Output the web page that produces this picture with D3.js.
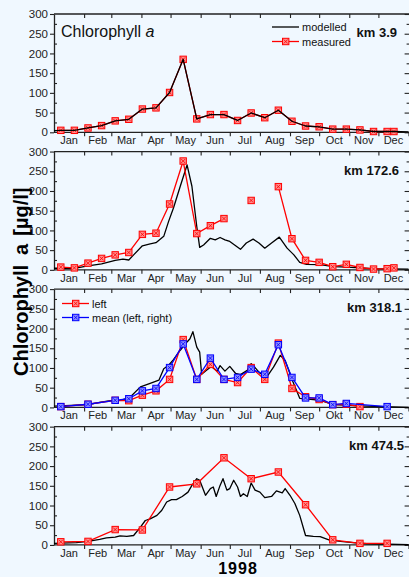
<!DOCTYPE html>
<html><head><meta charset="utf-8">
<script src="https://cdn.jsdelivr.net/npm/d3@7"></script>
<style>
html,body{margin:0;padding:0;background:#f0f8ff;}
svg{display:block;font-family:Arial,"Liberation Sans",sans-serif;}
</style></head><body>
<svg id="c" width="409" height="577"></svg>
<script>
// ---------- data ----------
const monthLabels = ["Jan","Feb","Mar","Apr","May","Jun","Jul","Aug","Sep","Oct","Nov","Dec"];
const monthLabels3 = ["Jan","Feb","Mar","Apr","May","Jun","Jul","Aug","Sep","Okt","Nov","Dec"];
const yTicks = [0,50,100,150,200,250,300];
const yMinor = [25,75,125,175,225,275];
const panelTitles = ["km 3.9","km 172.6","km 318.1","km 474.5"];

// biweekly sampling dates (km 3.9, km 172.6)
const datesA = ["1998-01-08","1998-01-22","1998-02-05","1998-02-19","1998-03-05","1998-03-19","1998-04-02","1998-04-16","1998-04-30","1998-05-14","1998-05-28","1998-06-11","1998-06-25","1998-07-09","1998-07-23","1998-08-06","1998-08-20","1998-09-03","1998-09-17","1998-10-01","1998-10-15","1998-10-29","1998-11-12","1998-11-26","1998-12-10","1998-12-17"];
const measured1 = [5,5,11,17,29,33,59,62,101,185,34,45,45,30,49,37,56,28,16,14,8,8,6,2,2,2];
const modelled1Days = [0,7,21,35,49,63,77,91,105,119,133,147,161,175,189,203,217,231,245,259,273,287,301,315,329,343,350,365];
const modelled1 = [4,5,5,11,17,29,33,59,62,101,185,34,45,45,30,49,37,56,28,16,14,8,8,6,2,2,2,1];

const measured2 = [7,5,17,29,38,44,90,93,167,276,92,112,130,null,176,null,211,79,24,19,8,14,6,2,3,5];
const modelled2Days = [0,21,35,49,63,71,77,82,91,99,105,113,118,123,130,137,142,147,150,154,161,166,171,176,181,192,198,205,211,217,224,232,240,247,253,260,274,288,302,315,329,365];
const modelled2 = [4,4,10,15,24,27,25,38,61,66,69,85,123,157,212,266,212,110,57,63,80,76,82,76,72,52,68,78,68,55,68,83,55,38,19,14,13,8,7,5,3,2];

const dates3 = ["1998-01-08","1998-02-05","1998-03-05","1998-03-19","1998-04-02","1998-04-16","1998-04-30","1998-05-14","1998-05-28","1998-06-11","1998-06-25","1998-07-09","1998-07-23","1998-08-06","1998-08-20","1998-09-03","1998-09-17","1998-10-01","1998-10-15","1998-10-29","1998-11-12","1998-12-10"];
const left3 = [2,8,18,17,31,42,71,172,71,109,71,63,101,71,163,48,27,20,7,8,2,null];
const mean3 = [2,8,18,22,42,48,101,161,71,125,71,76,97,84,159,76,24,24,7,10,null,2];
const modelled3Days = [0,35,47,58,68,78,89,99,108,113,118,123,130,137,140,143,147,150,152,157,162,168,171,176,181,187,192,199,203,207,212,219,226,233,238,246,253,267,274,288,305,322,365];
const modelled3 = [3,7,13,17,18,25,52,61,69,98,107,121,145,166,174,192,153,140,84,94,104,92,106,92,104,86,83,94,111,101,87,77,102,132,119,65,23,20,18,7,5,3,0];

const dates4 = ["1998-01-08","1998-02-05","1998-03-05","1998-04-02","1998-04-30","1998-05-28","1998-06-25","1998-07-23","1998-08-20","1998-09-17","1998-10-15","1998-11-12","1998-12-10"];
const measured4 = [8,9,39,38,147,155,221,168,185,102,13,4,4];
const modelled4Days = [0,23,35,47,54,63,68,75,82,89,94,99,106,111,116,121,126,132,138,142,147,150,156,161,164,167,171,174,178,181,185,189,192,195,199,203,207,212,217,224,229,235,238,243,248,253,259,267,274,283,295,308,322,365];
const modelled4 = [4,6,9,14,18,20,23,22,24,45,62,66,75,88,109,115,115,123,134,151,168,164,126,143,147,123,151,168,139,143,164,147,123,130,123,157,139,134,120,123,137,132,143,126,105,75,24,22,21,13,9,6,3,1];

// ---------- drawing ----------
const svg = d3.select("#c");
svg.append("rect").attr("width",409).attr("height",577).attr("fill","#f0f8ff");
const parse = d3.timeParse("%Y-%m-%d");
const jan1 = new Date(1998,0,1);
const dayDate = d => d3.timeDay.offset(jan1, d);
const x = d3.scaleTime().domain([jan1, new Date(1999,0,1)]).range([54,408.5]);
const X0 = 54, XR = 409.6;
const tops = [14,151.55,289.1,426.65], PH = 118.3;
const months = d3.timeMonth.range(jan1, new Date(1999,0,1));
const AX = "#222";

function marker(g, cx, cy, col, fill){
  g.append("rect").attr("x",cx-3.2).attr("y",cy-3.2).attr("width",6.4).attr("height",6.4)
    .attr("fill",fill).attr("stroke",col).attr("stroke-width",1);
  g.append("path").attr("d",`M${cx-2},${cy-2}L${cx+2},${cy+2}M${cx+2},${cy-2}L${cx-2},${cy+2}`)
    .attr("stroke",col).attr("stroke-width",0.8).attr("fill","none");
}

function drawSeries(g, y, dates, vals, col, fill, width){
  const pts = dates.map((d,i)=>({d:parse(d), v:vals[i]}));
  const line = d3.line().defined(p=>p.v!=null).x(p=>x(p.d)).y(p=>y(p.v));
  g.append("path").datum(pts).attr("d",line).attr("fill","none").attr("stroke",col).attr("stroke-width",width||1.3);
  pts.filter(p=>p.v!=null).forEach(p=>marker(g, x(p.d), y(p.v), col, fill));
}
function drawSeriesConnected(g, y, dates, vals, col, fill){
  const pts = dates.map((d,i)=>({d:parse(d), v:vals[i]})).filter(p=>p.v!=null);
  const line = d3.line().x(p=>x(p.d)).y(p=>y(p.v));
  g.append("path").datum(pts).attr("d",line).attr("fill","none").attr("stroke",col).attr("stroke-width",1.3);
  pts.forEach(p=>marker(g, x(p.d), y(p.v), col, fill));
}
function drawModel(g, y, days, vals){
  const pts = days.map((d,i)=>({d:dayDate(d), v:vals[i]}));
  g.append("path").datum(pts).attr("d", d3.line().x(p=>x(p.d)).y(p=>y(p.v)))
    .attr("fill","none").attr("stroke","#000").attr("stroke-width",1.3).attr("stroke-linejoin","round");
}

function styleAxis(a){
  a.selectAll("path,line").attr("stroke",AX).attr("stroke-width",1.1);
  a.select(".domain").attr("stroke-width",1.3);
}

tops.forEach((top,i)=>{
  const y = d3.scaleLinear().domain([0,300]).range([top+PH, top]);
  const g = svg.append("g");
  const bottom = top+PH;

  const la = g.append("g").attr("transform",`translate(${X0},0)`)
    .call(d3.axisLeft(y).tickValues(yTicks).tickSize(4).tickSizeOuter(0).tickPadding(2));
  styleAxis(la);
  la.selectAll("text").attr("font-size","11.5px").attr("fill",AX).attr("font-family","Arial, 'Liberation Sans', sans-serif");
  const lm = g.append("g").attr("transform",`translate(${X0},0)`)
    .call(d3.axisRight(y).tickValues(yMinor).tickSize(3).tickSizeOuter(0).tickFormat(""));
  styleAxis(lm); lm.select(".domain").remove();
  const ra = g.append("g").attr("transform",`translate(${XR},0)`)
    .call(d3.axisLeft(y).tickValues(yTicks).tickSize(5).tickSizeOuter(0).tickFormat(""));
  styleAxis(ra);
  const rm = g.append("g").attr("transform",`translate(${XR},0)`)
    .call(d3.axisLeft(y).tickValues(yMinor).tickSize(3).tickSizeOuter(0).tickFormat(""));
  styleAxis(rm); rm.select(".domain").remove();
  const ta = g.append("g").attr("transform",`translate(0,${top})`)
    .call(d3.axisBottom(x).tickValues(months.slice(1)).tickSize(4).tickSizeOuter(0).tickFormat(""));
  styleAxis(ta);
  ta.select(".domain").attr("d",`M${X0},0H${XR}`);
  const ba = g.append("g").attr("transform",`translate(0,${bottom})`)
    .call(d3.axisBottom(x).tickValues(months.slice(1).concat([new Date(1999,0,1)])).tickSize(4).tickSizeOuter(0).tickFormat(""));
  styleAxis(ba);
  ba.select(".domain").attr("d",`M${X0},0H${XR}`);
  const labs = i===2 ? monthLabels3 : monthLabels;
  months.forEach((m,k)=>{
    const mid = (x(m) + x(d3.timeMonth.offset(m,1)))/2;
    g.append("text").attr("x",mid).attr("y",bottom+12).attr("text-anchor","middle")
      .attr("font-size","11px").attr("fill",AX).text(labs[k]);
  });
  const endX = [397,399,402,404][i];
  g.append("text").attr("x",endX).attr("y",top+23).attr("text-anchor","end")
    .attr("font-size","13px").attr("font-weight","bold").attr("fill","#111").text(panelTitles[i]);

  const pg = g.append("g");
  if(i===0){
    drawSeries(pg, y, datesA, measured1, "#ff0000", "#ff8c8c");
    drawModel(pg, y, modelled1Days, modelled1);
  } else if(i===1){
    drawModel(pg, y, modelled2Days, modelled2);
    drawSeries(pg, y, datesA, measured2, "#ff0000", "#ff8c8c");
  } else if(i===2){
    drawModel(pg, y, modelled3Days, modelled3);
    drawSeries(pg, y, dates3, left3, "#ff0000", "#ff8c8c");
    drawSeriesConnected(pg, y, dates3, mean3, "#0000ff", "#8c8cff");
  } else {
    drawModel(pg, y, modelled4Days, modelled4);
    drawSeries(pg, y, dates4, measured4, "#ff0000", "#ff8c8c");
  }
});

const cap = svg.append("text").attr("x",61).attr("y",37).attr("font-size","16px").attr("fill","#111");
cap.append("tspan").text("Chlorophyll ");
cap.append("tspan").attr("font-style","italic").text("a");

const lg = svg.append("g");
lg.append("line").attr("x1",272).attr("x2",299).attr("y1",27).attr("y2",27).attr("stroke","#000").attr("stroke-width",1.3);
lg.append("text").attr("x",302).attr("y",31).attr("font-size","11px").attr("fill","#111").text("modelled");
lg.append("line").attr("x1",272).attr("x2",299).attr("y1",41.5).attr("y2",41.5).attr("stroke","#ff0000").attr("stroke-width",1.3);
marker(lg, 285.7, 41.5, "#ff0000", "#ff8c8c");
lg.append("text").attr("x",302).attr("y",46).attr("font-size","11px").attr("fill","#111").text("measured");

const lg3 = svg.append("g");
lg3.append("line").attr("x1",62).attr("x2",89).attr("y1",303.5).attr("y2",303.5).attr("stroke","#ff0000").attr("stroke-width",1.3);
marker(lg3, 75.7, 303.5, "#ff0000", "#ff8c8c");
lg3.append("text").attr("x",92).attr("y",307.5).attr("font-size","11px").attr("fill","#111").text("left");
lg3.append("line").attr("x1",62).attr("x2",89).attr("y1",317.5).attr("y2",317.5).attr("stroke","#0000ff").attr("stroke-width",1.3);
marker(lg3, 75.7, 317.5, "#0000ff", "#8c8cff");
lg3.append("text").attr("x",92).attr("y",321.5).attr("font-size","11px").attr("fill","#111").text("mean (left, right)");

const yl = svg.append("text").attr("transform","translate(28,376) rotate(-90)")
  .attr("font-size","20px").attr("font-weight","bold").attr("fill","#000");
yl.append("tspan").text("Chlorophyll");
yl.append("tspan").attr("dx",10).text("a");
yl.append("tspan").attr("dx",8).text("[µg/l]");

svg.append("text").attr("x",238).attr("y",573.6).attr("text-anchor","middle")
  .attr("font-size","16px").attr("letter-spacing","1px").attr("font-weight","bold").attr("fill","#000").text("1998");
</script>
</body></html>
